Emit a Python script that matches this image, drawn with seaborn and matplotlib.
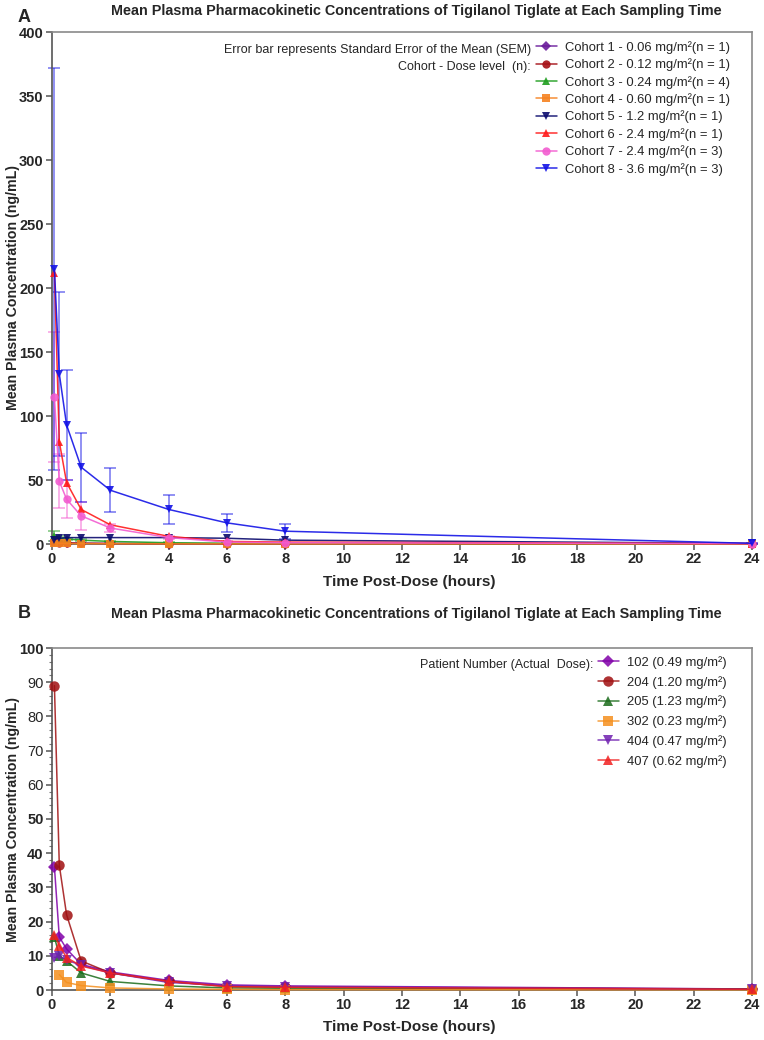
import numpy as np
import pandas as pd
import matplotlib
matplotlib.use("Agg")
import matplotlib.pyplot as plt
import seaborn as sns

sns.set_style("ticks")
plt.rcParams['font.family'] = ['Liberation Sans', 'DejaVu Sans']

# sampling times (hours)
times = [0.083, 0.25, 0.5, 1, 2, 4, 6, 8, 24]

# Panel A - cohort means and SEM
cohort_labels = [
    'Cohort 1 - 0.06 mg/m²(n = 1)',
    'Cohort 2 - 0.12 mg/m²(n = 1)',
    'Cohort 3 - 0.24 mg/m²(n = 4)',
    'Cohort 4 - 0.60 mg/m²(n = 1)',
    'Cohort 5 - 1.2 mg/m²(n = 1)',
    'Cohort 6 - 2.4 mg/m²(n = 1)',
    'Cohort 7 - 2.4 mg/m²(n = 3)',
    'Cohort 8 - 3.6 mg/m²(n = 3)',
]
cohort1 = [2.5, 1.2, 0.9, 0.6, 0.4, 0.3, 0.2, 0.2, 0.1]
cohort2 = [1.5, 1.0, 0.8, 0.6, 0.4, 0.3, 0.2, 0.2, 0.1]
cohort3 = [6.0, 4.5, 4.0, 3.0, 2.0, 1.0, 0.6, 0.4, 0.1]
cohort4 = [0.6, 0.5, 0.4, 0.3, 0.2, 0.1, 0.1, 0.1, 0.05]
cohort5 = [3.5, 4.5, 5.0, 5.0, 5.0, 5.0, 4.5, 3.0, 0.5]
cohort6 = [212, 80, 48, 27, 15, 6, 2.0, 1.5, 0.3]
cohort7 = [115, 49, 35, 22, 12.5, 5, 1.5, 1.0, 0.3]
cohort8 = [215, 133, 93, 60, 42, 27, 16.5, 10, 0.5]
sem3 = [4.0, 1.5, 1.0, 0.8, 0.5, 0.3, 0.2, 0.1, 0.05]
sem7 = [51, 21, 15, 11, 3, 1.2, 0.5, 0.3, 0.1]
sem8 = [157, 64, 43, 27, 17, 11.5, 7, 6, 0.3]

cohort_values = [cohort1, cohort2, cohort3, cohort4, cohort5, cohort6, cohort7, cohort8]
cohort_sem = [None, None, sem3, None, None, None, sem7, sem8]
cohort_colors = ['#6a1b9a', '#a50f15', '#1f9e1f', '#f58220', '#0b0b6e', '#ff1a1a', '#f25cd0', '#1414e6']
cohort_markers = ['D', 'o', '^', 's', 'v', '^', 'o', 'v']

# Panel B - individual patients
patient_labels = [
    '102 (0.49 mg/m²)',
    '204 (1.20 mg/m²)',
    '205 (1.23 mg/m²)',
    '302 (0.23 mg/m²)',
    '404 (0.47 mg/m²)',
    '407 (0.62 mg/m²)',
]
p102 = [36, 15.5, 12, 7.5, 5.3, 2.8, 1.5, 1.2, 0.3]
p204 = [89, 36.5, 22, 8.5, 5.0, 2.5, 1.0, 0.8, 0.3]
p205 = [15.5, 10, 8.5, 5.0, 2.5, 1.2, 0.6, 0.5, 0.2]
p302 = [np.nan, 4.5, 2.2, 1.3, 0.6, 0.3, 0.2, 0.1, 0.05]
p404 = [9.5, 9.8, 8.8, 7.2, 5.0, 2.2, 1.3, 1.0, 0.2]
p407 = [16, 13, 9.5, 7.0, 5.0, 2.5, 1.0, 0.8, 0.2]

patient_values = [p102, p204, p205, p302, p404, p407]
patient_colors = ['#8000a8', '#a00f10', '#1a6b1a', '#f5901e', '#7020b0', '#f02020']
patient_markers = ['D', 'o', '^', 's', 'v', '^']

title = 'Mean Plasma Pharmacokinetic Concentrations of Tigilanol Tiglate at Each Sampling Time'

W, H = 764, 1040
fig = plt.figure(figsize=(W / 100, H / 100), dpi=100)
axA = fig.add_axes([52 / W, 1 - 544 / H, 700 / W, 512 / H])
axB = fig.add_axes([52 / W, 1 - 990 / H, 700 / W, 342 / H])

# ---- Panel A ----
for lab, vals, sem, col, mk in zip(cohort_labels, cohort_values, cohort_sem, cohort_colors, cohort_markers):
    d = pd.DataFrame({'t': times, 'c': vals})
    if sem is not None:
        axA.errorbar(times, vals, yerr=sem, fmt='none', ecolor=col, alpha=0.55,
                     elinewidth=1.2, capsize=4, capthick=1.2, zorder=2, clip_on=False)
    sns.lineplot(data=d, x='t', y='c', ax=axA, color=col, marker=mk, label=lab,
                 markersize=5 if mk == 'D' else 6, markeredgewidth=0, linewidth=1.1,
                 alpha=0.9, clip_on=False, zorder=3)

# ---- Panel B ----
for lab, vals, col, mk in zip(patient_labels, patient_values, patient_colors, patient_markers):
    d = pd.DataFrame({'t': times, 'c': vals}).dropna()
    sns.lineplot(data=d, x='t', y='c', ax=axB, color=col, marker=mk, label=lab,
                 markersize=6 if mk == 'D' else 7.5, markeredgewidth=0, linewidth=1.1,
                 alpha=0.85, clip_on=False, zorder=3)

for ax, top in [(axA, 400), (axB, 100)]:
    ax.set_xlim(0, 24)
    ax.set_ylim(0, top)
    ax.set_xticks(np.arange(0, 25, 2))
    ax.set_xlabel('Time Post-Dose (hours)', fontsize=11, fontweight='bold')
    ax.xaxis.set_label_coords(0.51, -0.061 if ax is axA else -0.089)
    ax.set_ylabel('Mean Plasma Concentration (ng/mL)', fontsize=10.2, fontweight='bold')
    ax.yaxis.set_label_coords((20 - 52) / 700, 0.5)
    for side in ['left', 'bottom']:
        ax.spines[side].set_color('#555555')
    for side in ['top', 'right']:
        ax.spines[side].set_color('#8a8a8a')
    for s in ax.spines.values():
        s.set_linewidth(1.2)
    ax.tick_params(axis='both', which='major', labelsize=10.5, length=4, width=1.1,
                   color='#555555', pad=2)
    for t in ax.get_xticklabels() + ax.get_yticklabels():
        t.set_fontweight('bold')

axA.set_yticks(np.arange(0, 401, 50))
axB.set_yticks(np.arange(0, 101, 10))
axB.set_yticks(np.arange(0, 101, 2), minor=True)
axB.tick_params(axis='y', which='minor', length=2.5, width=0.8, color='#777777')

legA = axA.legend(loc='upper left', bbox_to_anchor=((536 - 52) / 700, (544 - 41) / 512),
                  frameon=False, fontsize=9.4, handlelength=1.6, handletextpad=0.6,
                  labelspacing=0.35, borderpad=0, borderaxespad=0)
legB = axB.legend(loc='upper left', bbox_to_anchor=((598 - 52) / 700, (990 - 656) / 342),
                  frameon=False, fontsize=9.4, handlelength=1.6, handletextpad=0.6,
                  labelspacing=0.53, borderpad=0, borderaxespad=0)

axA.text((531 - 52) / 700, (544 - 50) / 512, 'Error bar represents Standard Error of the Mean (SEM)',
         transform=axA.transAxes, ha='right', va='center', fontsize=9)
axA.text((531 - 52) / 700, (544 - 67) / 512, 'Cohort - Dose level  (n):',
         transform=axA.transAxes, ha='right', va='center', fontsize=9)
axB.text((593 - 52) / 700, (990 - 665) / 342, 'Patient Number (Actual  Dose):',
         transform=axB.transAxes, ha='right', va='center', fontsize=9)

fig.text(18 / W, 1 - 17 / H, 'A', fontsize=13, fontweight='bold', ha='left', va='center')
fig.text(416 / W, 1 - 11 / H, title, fontsize=10.4, fontweight='bold', ha='center', va='center')
fig.text(18 / W, 1 - 613 / H, 'B', fontsize=13, fontweight='bold', ha='left', va='center')
fig.text(416 / W, 1 - 614 / H, title, fontsize=10.4, fontweight='bold', ha='center', va='center')

fig.savefig('out.png', dpi=100)
